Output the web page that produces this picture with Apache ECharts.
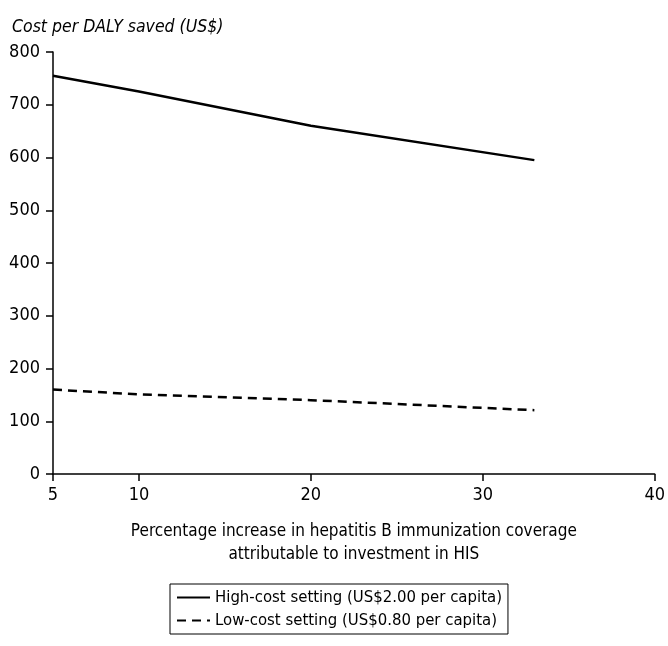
<!DOCTYPE html>
<html><head><meta charset="utf-8">
<script src="https://cdn.jsdelivr.net/npm/echarts@6/dist/echarts.min.js"></script>
<style>html,body{margin:0;padding:0;background:#fff}#c{width:668px;height:646px}</style>
</head><body><div id="c"></div>
<script>
const xValues = [5, 10, 20, 33];
const highCost = [755, 725, 660, 595];
const lowCost = [160, 151, 140, 121];
const xTicks = [5, 10, 20, 30, 40];
const seriesNames = ['High-cost setting (US$2.00 per capita)', 'Low-cost setting (US$0.80 per capita)'];
const yTitle = 'Cost per DALY saved (US$)';
const xTitle = 'Percentage increase in hepatitis B immunization coverage\nattributable to investment in HIS';

const FONT = '"Liberation Sans Narrow", "DejaVu Sans Condensed", Roboto, sans-serif';
const chart = echarts.init(document.getElementById('c'));
chart.setOption({
  animation: false,
  backgroundColor: '#fff',
  title: {
    text: yTitle, left: 7, top: 13,
    textStyle: { fontFamily: FONT, fontStyle: 'italic', fontWeight: 'normal', fontSize: 17.5, color: '#000' }
  },
  grid: { left: 53, right: 9, top: 52, bottom: 172 },
  xAxis: {
    type: 'value', min: 5, max: 40,
    axisLine: { show: true, lineStyle: { color: '#000', width: 1.5 } },
    axisTick: { show: true, length: 7, lineStyle: { color: '#000', width: 1.5 },
      customValues: xTicks },
    axisLabel: { fontFamily: FONT, fontSize: 18, color: '#000', margin: 12, customValues: xTicks },
    splitLine: { show: false },
    name: xTitle, nameLocation: 'middle', nameGap: 46,
    nameTextStyle: { fontFamily: FONT, fontSize: 17, color: '#000', lineHeight: 23 }
  },
  yAxis: {
    type: 'value', min: 0, max: 800, interval: 100,
    axisLine: { show: true, lineStyle: { color: '#000', width: 1.5 } },
    axisTick: { show: true, length: 7, lineStyle: { color: '#000', width: 1.5 } },
    axisLabel: { fontFamily: FONT, fontSize: 18, color: '#000', margin: 13 },
    splitLine: { show: false }
  },
  legend: {
    orient: 'vertical', left: 170, top: 584,
    borderColor: '#000', borderWidth: 1, padding: [5, 6, 5, 6],
    itemGap: 6, itemWidth: 33, itemHeight: 14,
    itemStyle: { opacity: 0 },
    textStyle: { fontFamily: FONT, fontSize: 16.6, color: '#000' },
    data: seriesNames
  },
  series: [
    { name: seriesNames[0], type: 'line', symbol: 'none', color: '#000',
      lineStyle: { color: '#000', width: 2.5, type: 'solid' },
      data: xValues.map((x, i) => [x, highCost[i]]) },
    { name: seriesNames[1], type: 'line', symbol: 'none', color: '#000',
      lineStyle: { color: '#000', width: 2.5, type: [9, 6] },
      data: xValues.map((x, i) => [x, lowCost[i]]) }
  ]
});
</script></body></html>
